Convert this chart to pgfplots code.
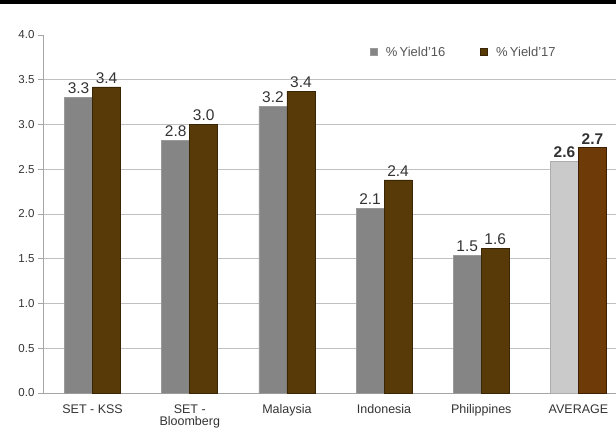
\documentclass[border=0pt]{standalone}
\usepackage{pgfplots}
\pgfplotsset{compat=1.18}
\usepackage{fontspec}
\setmainfont{Liberation Sans}
\definecolor{gA}{HTML}{858585}
\definecolor{gAd}{HTML}{9A9A9A}
\definecolor{bA}{HTML}{573A08}
\definecolor{bAd}{HTML}{3A2604}
\definecolor{gB}{HTML}{CACACA}
\definecolor{gBd}{HTML}{ADADAD}
\definecolor{bB}{HTML}{6E3A08}
\definecolor{bBd}{HTML}{3E2004}
\definecolor{axgrey}{HTML}{A6A6A6}
\definecolor{gridgrey}{HTML}{C0C0C0}
\definecolor{txt}{HTML}{333333}
\definecolor{legtxt}{HTML}{555555}
\begin{document}
\begin{tikzpicture}[x=1pt,y=1pt]
\useasboundingbox (0,0) rectangle (616,432);
\fill[black] (0,428) rectangle (616,432);
\begin{scope}
\clip (0,0) rectangle (616,432);
\begin{axis}[
  at={(44pt,39pt)}, anchor=south west,
  scale only axis, width=583pt, height=358pt,
  ybar, bar width=28pt,
  xmin=-0.5, xmax=5.5, ymin=0, ymax=4,
  axis lines*=left,
  axis line style={axgrey, line width=1pt},
  xtick={0,1,2,3,4,5},
  xticklabels={SET - KSS, {SET -\\Bloomberg}, Malaysia, Indonesia, Philippines, AVERAGE},
  xticklabel style={align=center, font=\fontsize{12.5}{12}\selectfont, text=txt, yshift=-2pt},
  x tick style={draw=none},
  minor xtick={0.5,1.5,2.5,3.5,4.5},
  minor x tick style={axgrey, line width=0.8pt},
  minor tick length=5pt,
  tick align=outside,
  ytick={0,0.5,1,1.5,2,2.5,3,3.5},
  extra y ticks={4},
  extra y tick style={grid=none},
  ymajorgrids, grid style={gridgrey, line width=0.8pt},
  y tick style={axgrey, line width=0.8pt},
  major tick length=6pt,
  yticklabel style={font=\fontsize{11.5}{11}\selectfont, text=txt},
  /pgf/number format/.cd, fixed, fixed zerofill, precision=1, assume math mode=true,
  /pgfplots/.cd,
  nodes near coords,
  nodes near coords style={font=\fontsize{15.5}{15}\selectfont, text=txt,
     /pgf/number format/fixed, /pgf/number format/fixed zerofill, /pgf/number format/precision=1},
  legend style={at={(0.559,0.952)}, anchor=west, draw=none, fill=none,
     legend columns=2, font=\fontsize{13}{13}\selectfont, text=legtxt,
     inner xsep=0pt,
     /tikz/every odd column/.append style={column sep=6pt},
     /tikz/every even column/.append style={column sep=33pt}},
  legend image code/.code={\fill[#1] (0pt,-3.5pt) rectangle (7pt,3.5pt);},
]
\addplot[fill=gA, draw=gAd, line width=0.8pt, bar shift=-14pt] coordinates {(0,3.30) (1,2.82) (2,3.20) (3,2.06) (4,1.54)};
\addlegendentry{\%\,Yield'16}
\addplot[fill=bA, draw=bAd, line width=0.8pt, bar shift=14pt] coordinates {(0,3.42) (1,3.00) (2,3.37) (3,2.38) (4,1.62)};
\addlegendentry{\%\,Yield'17}
\addplot[fill=gB, draw=gBd, line width=0.8pt, bar shift=-14pt, forget plot,
  nodes near coords style={font=\bfseries\fontsize{15.5}{15}\selectfont}] coordinates {(5,2.59)};
\addplot[fill=bB, draw=bBd, line width=0.8pt, bar shift=14pt, forget plot,
  nodes near coords style={font=\bfseries\fontsize{15.5}{15}\selectfont}] coordinates {(5,2.74)};
\end{axis}
\end{scope}
\end{tikzpicture}
\end{document}
